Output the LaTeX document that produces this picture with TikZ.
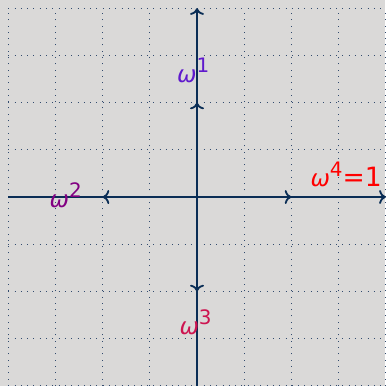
\documentclass[tikz,border=0pt]{standalone}
\usepackage{fontspec}
\setmainfont{DejaVu Sans}
\usetikzlibrary{arrows.meta}
\definecolor{paper}{RGB}{218,217,216}
\definecolor{navy}{RGB}{10,45,85}
\definecolor{dotgrid}{RGB}{50,75,110}
\definecolor{rootone}{RGB}{95,25,205}
\definecolor{roottwo}{RGB}{130,0,130}
\definecolor{rootthree}{RGB}{205,20,80}
\definecolor{rootfour}{RGB}{255,0,0}
\newcommand{\wpow}[2][]{{\itshape ω}\raisebox{6pt}{\fontsize{12}{12}\selectfont #2}{\fontsize{16}{16}\selectfont #1}}
\tikzset{
  axis/.style={->,line width=1.1pt,draw=navy},
  vec/.style={->,line width=1.1pt,draw=navy},
  rootlabel/.style={text=#1,font=\fontsize{14}{14}\selectfont,inner sep=0pt},
  rootlabel/.default=black,
}
\begin{document}
\begin{tikzpicture}
  \fill[paper] (-4.174,-4.004) rectangle (3.983,4.174);
  \useasboundingbox (-4.174,-4.004) rectangle (3.983,4.174);
  \draw[dotgrid,line width=0.6pt,dash pattern=on 0.6pt off 3.2pt] (-4,-4) grid (4,4);
  % axes
  \draw[axis] (-4,0) coordinate (xl) -- (4,0) coordinate (xr);
  \draw[axis] (0,-4) coordinate (yb) -- (0,4) coordinate (yt);
  % the four roots
  \coordinate (o) at (0,0);
  \foreach \n/\x/\y in {r1/0/2,r2/-2/0,r3/0/-2,r4/2/0}
    \draw[vec] (o) -- (\x,\y) coordinate (\n);
  \node[rootlabel=rootone] (w1) at (-0.08,2.68) {\wpow{1}};
  \node[rootlabel=roottwo] (w2) at (-2.78,0.03) {\wpow{2}};
  \node[rootlabel=rootthree] (w3) at (-0.03,-2.66) {\wpow{3}};
  \node[rootlabel=rootfour] (w4) at (3.16,0.47) {\wpow[=1]{4}};
\end{tikzpicture}
\end{document}
